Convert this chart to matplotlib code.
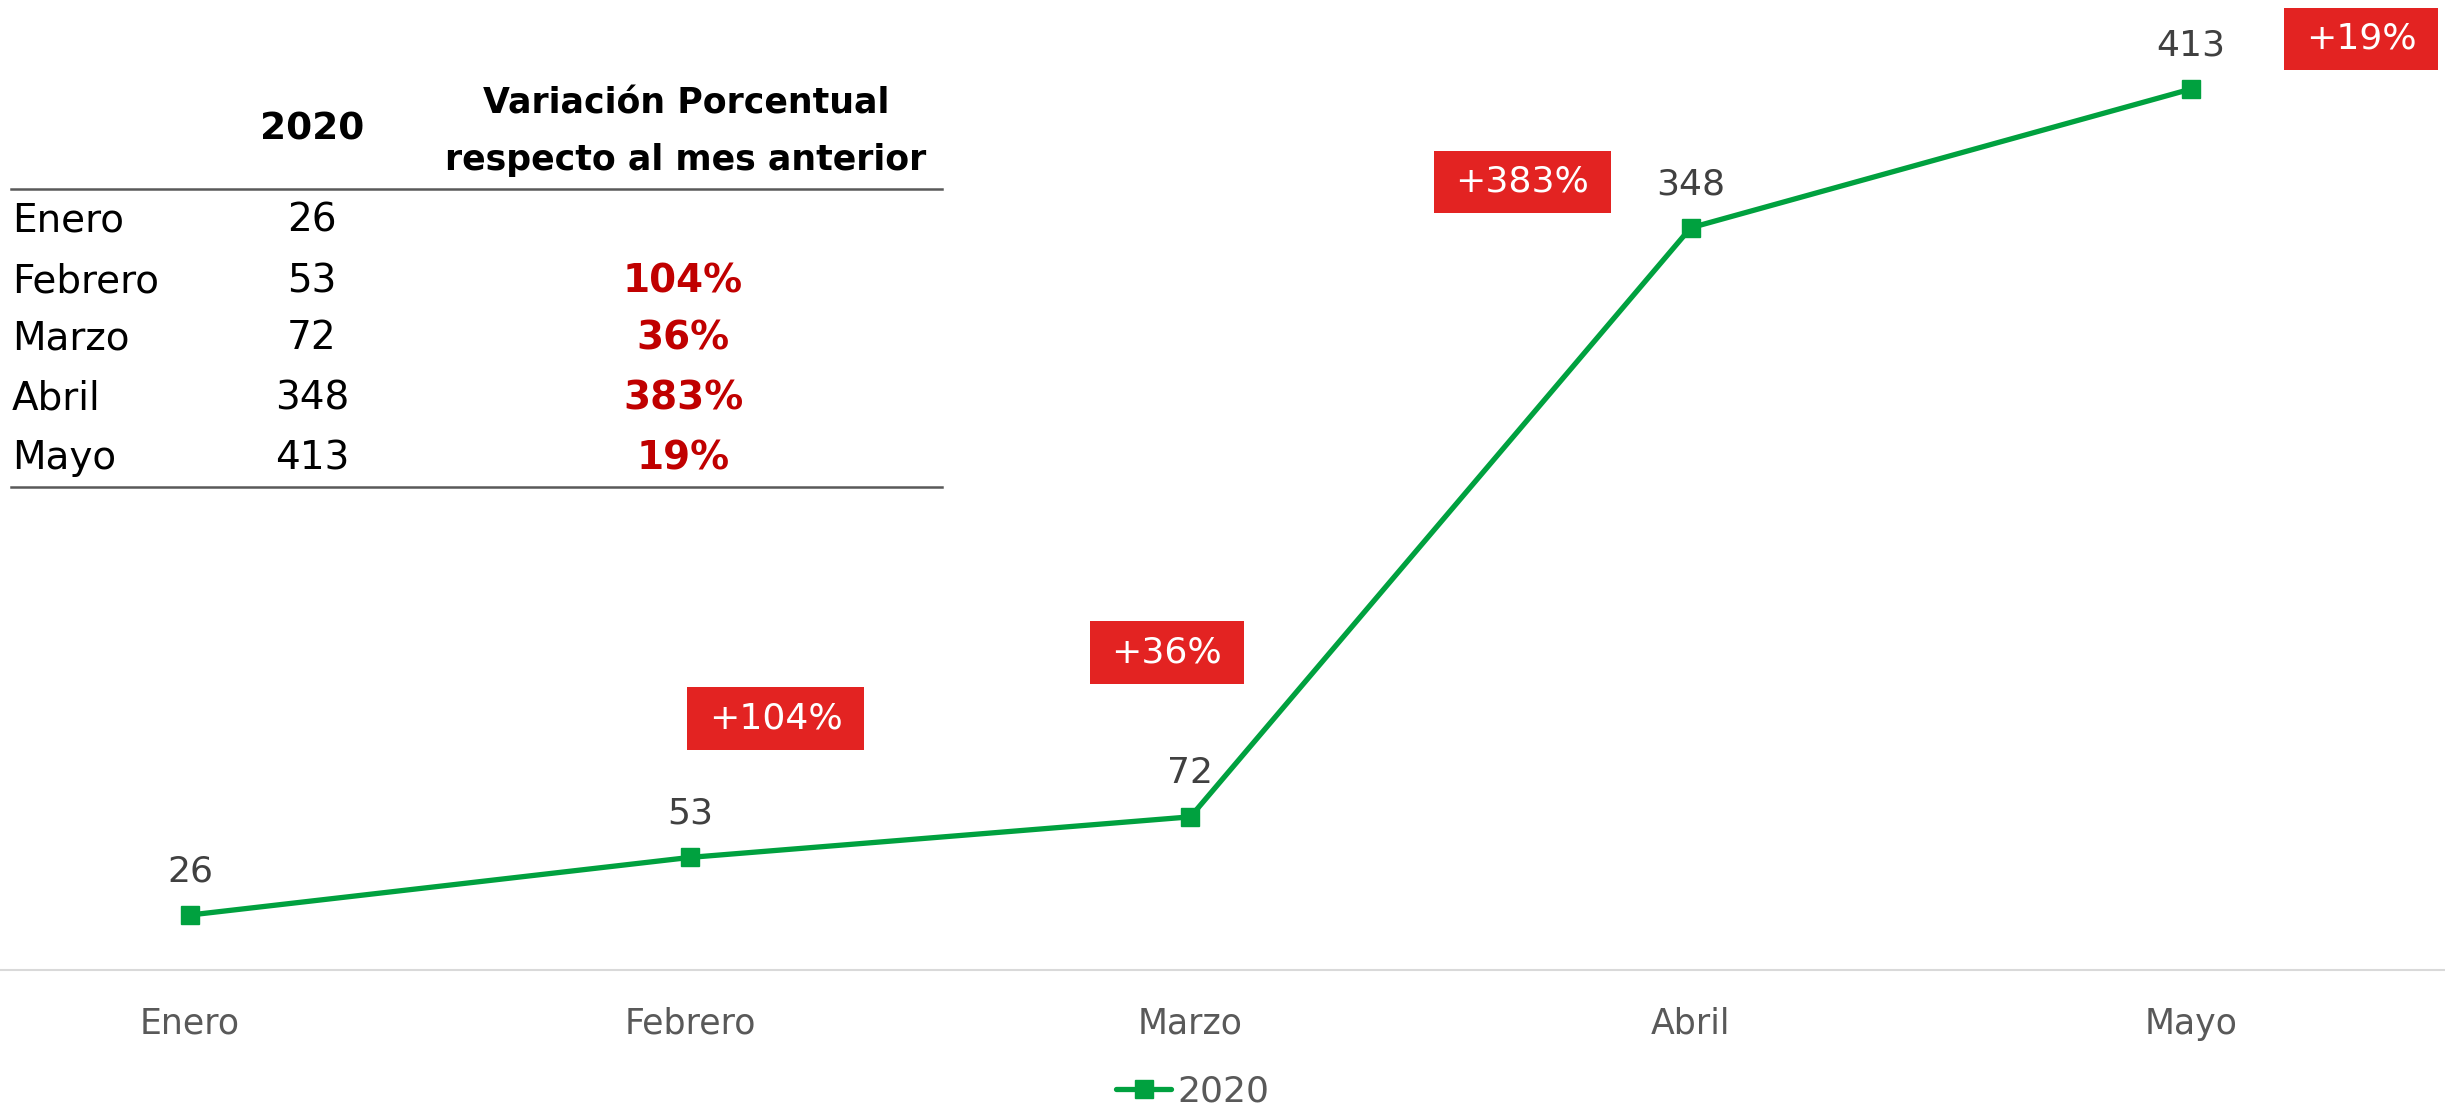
import matplotlib
matplotlib.use("Agg")
import matplotlib.pyplot as plt

# datos
meses = ["Enero", "Febrero", "Marzo", "Abril", "Mayo"]
casos_2020 = [26, 53, 72, 348, 413]
variacion = [None, 104, 36, 383, 19]

# posiciones de las etiquetas rojas (x, y en datos)
pos_etiquetas = [None, (1.171, 118), (1.953, 149), (2.663, 369.5), (4.34, 436.5)]

verde = "#00A13F"
rojo = "#E32322"
gris = "#595959"

plt.rcParams["font.family"] = ["DejaVu Sans"]

fig = plt.figure(figsize=(24.45, 11.09), dpi=100)
ax = fig.add_axes([0, 0.1249, 1, 0.866])

x = list(range(len(meses)))
ax.plot(x, casos_2020, color=verde, linewidth=3.8, marker="s", markersize=13,
        label="2020", solid_capstyle="round")

for xi, v in zip(x, casos_2020):
    ax.annotate(str(v), (xi, v), xytext=(0, 19), textcoords="offset points",
                ha="center", va="bottom", fontsize=26, color="#404040")

for pos, var in zip(pos_etiquetas, variacion):
    if var is None:
        continue
    ax.text(pos[0], pos[1], f"+{var}%", ha="center", va="center", fontsize=26,
            color="white",
            bbox=dict(boxstyle="square,pad=0.6", mutation_aspect=0.66, fc=rojo, ec="none"))

ax.set_xlim(-0.38, 4.508)
ax.set_ylim(0, 450)
ax.set_xticks(x)
ax.set_xticklabels(meses, fontsize=25, color=gris)
ax.tick_params(axis="x", length=0, pad=26)
ax.set_yticks([])
for s in ["top", "right", "left"]:
    ax.spines[s].set_visible(False)
ax.spines["bottom"].set_color("#D9D9D9")
ax.spines["bottom"].set_linewidth(1.5)

leg = ax.legend(loc="lower center", bbox_to_anchor=(0.488, -0.178), frameon=False,
                fontsize=26, handlelength=1.5, handletextpad=0.2, labelcolor=gris)

# tabla en la esquina superior izquierda (coordenadas de figura)
W, H = 2445, 1109
def fx(px):
    return px / W
def fy(py):
    return 1 - py / H

fig.text(fx(312), fy(130), "2020", ha="center", va="center", fontsize=27,
         fontweight="bold", color="black")
fig.text(fx(686), fy(103), "Variación Porcentual", ha="center", va="center",
         fontsize=25, fontweight="bold", color="black")
fig.text(fx(686), fy(160), "respecto al mes anterior", ha="center", va="center",
         fontsize=25, fontweight="bold", color="black")
fig.add_artist(plt.Line2D([fx(11), fx(942)], [fy(189), fy(189)], color="#595959", lw=1.8))
fig.add_artist(plt.Line2D([fx(11), fx(942)], [fy(487), fy(487)], color="#595959", lw=1.8))

filas_y = [221, 281, 338, 398, 458]
for py, mes, v, var in zip(filas_y, meses, casos_2020, variacion):
    fig.text(fx(12), fy(py), mes, ha="left", va="center", fontsize=28, color="black")
    fig.text(fx(312), fy(py), str(v), ha="center", va="center", fontsize=28, color="black")
    if var is not None:
        fig.text(fx(683), fy(py), f"{var}%", ha="center", va="center", fontsize=28,
                 fontweight="bold", color="#C00000")

fig.savefig("out.png", dpi=100, facecolor="white")
